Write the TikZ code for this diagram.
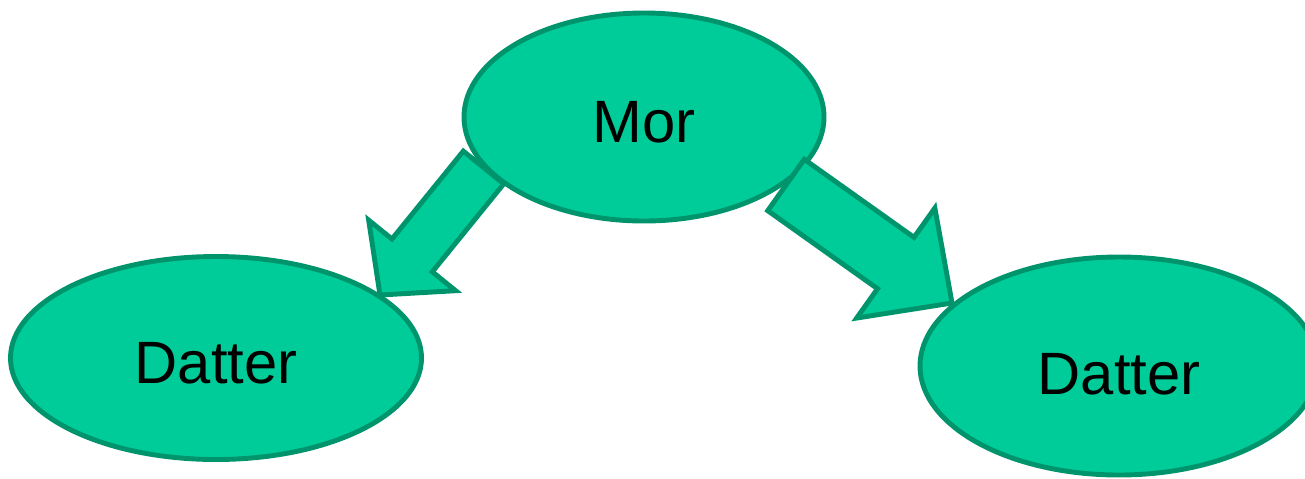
\documentclass[tikz,border=0pt]{standalone}
\usepackage{fontspec}
\setmainfont{Liberation Sans}
\usetikzlibrary{shapes.geometric,calc}
\definecolor{mint}{RGB}{0,204,153}
\definecolor{mintline}{RGB}{0,148,108}
\tikzset{
  person/.style={ellipse, draw=mintline, fill=mint, line width=1.4pt, inner sep=0pt,
    text height=14.5pt, font=\fontsize{17}{20}\selectfont},
  bigarrow/.style={draw=mintline, fill=mint, line width=1.4pt, line join=miter}
}
% #1 start, #2 tip, #3 half shaft, #4 half head, #5 head length
\newcommand{\blockarrow}[5]{%
  \coordinate (#2-base) at ($(#2)!#5!(#1)$);
  \filldraw[bigarrow] ($(#1)!#3!90:(#2)$) -- ($(#2-base)!#3!90:(#2)$)
    -- ($(#2-base)!#4!90:(#2)$) -- (#2) -- ($(#2-base)!#4!-90:(#2)$)
    -- ($(#2-base)!#3!-90:(#2)$) -- ($(#1)!#3!-90:(#2)$) -- cycle;}
\begin{document}
\begin{tikzpicture}
  \clip (0,0) rectangle (13.05,4.78);
  \coordinate (lstart) at (4.835,3.105); \coordinate (ltip) at (3.80,1.83);
  \coordinate (rstart) at (7.86,2.93); \coordinate (rtip) at (9.52,1.75);
  \blockarrow{lstart}{ltip}{0.26cm}{0.56cm}{0.51cm}
  \node[person, minimum width=3.60cm, minimum height=2.08cm] (mor) at (6.44,3.61) {Mor};
  \node[person, minimum width=4.11cm, minimum height=2.03cm] (datter1) at (2.16,1.20) {Datter};
  \blockarrow{rstart}{rtip}{0.315cm}{0.675cm}{0.69cm}
  \node[person, text height=16.5pt, minimum width=3.98cm, minimum height=2.18cm] (datter2) at (11.19,1.12) {Datter};
\end{tikzpicture}
\end{document}
